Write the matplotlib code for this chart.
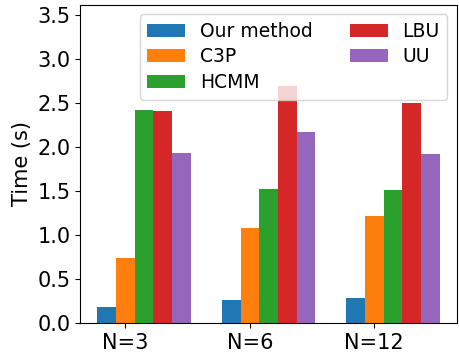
import matplotlib
matplotlib.use("Agg")
import matplotlib.pyplot as plt
import numpy as np

groups = ["N=3", "N=6", "N=12"]
series = ["Our method", "C3P", "HCMM", "LBU", "UU"]
our_method = [0.18, 0.265, 0.288]
c3p = [0.734, 1.078, 1.218]
hcmm = [2.42, 1.525, 1.506]
lbu = [2.41, 2.686, 2.497]
uu = [1.933, 2.172, 1.922]
values = [our_method, c3p, hcmm, lbu, uu]
colors = ["#1f77b4", "#ff7f0e", "#2ca02c", "#d62728", "#9467bd"]

fig = plt.figure(figsize=(4.59, 3.6), dpi=100)
ax = fig.add_axes([0.175, 0.103, 0.82, 0.883])
x = np.arange(len(groups))
w = 0.15
for i, (name, vals) in enumerate(zip(series, values)):
    ax.bar(x + (i - 1) * w, vals, w, label=name, color=colors[i])
ax.set_xticks(x)
ax.set_xticklabels(groups, fontsize=15)
ax.set_ylim(0, 3.61)
ax.set_yticks(np.arange(0, 3.51, 0.5))
ax.tick_params(axis='y', labelsize=15)
ax.set_ylabel("Time (s)", fontsize=15)
ax.legend(ncol=2, loc="upper right", fontsize=13.5, labelspacing=0.35)
fig.savefig("out.png", dpi=100)
